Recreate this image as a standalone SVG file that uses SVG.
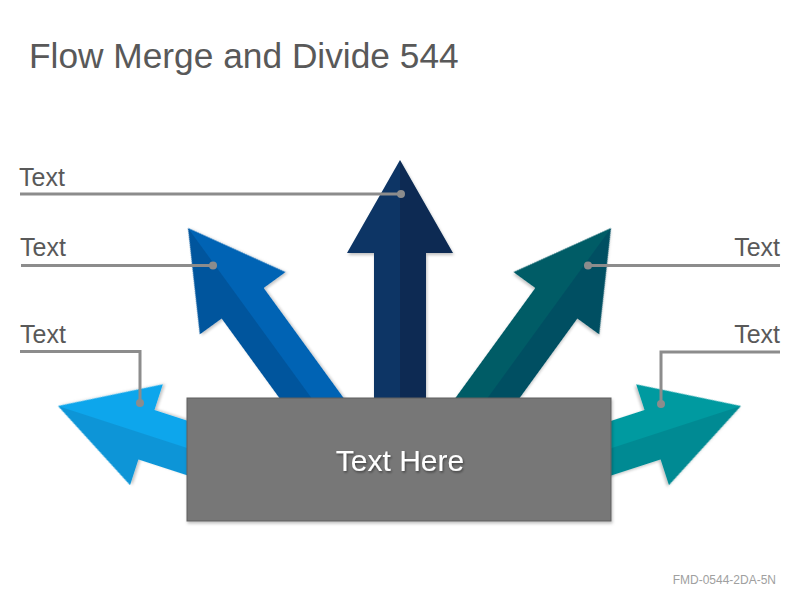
<svg xmlns="http://www.w3.org/2000/svg" width="800" height="600" viewBox="0 0 800 600">
  <style>
    .lbl { font-family: "Liberation Sans", Arial, sans-serif; font-size: 25px; fill: #595959; }
    .title { font-family: "Liberation Sans", Arial, sans-serif; font-size: 35.3px; fill: #595959; }
    .foot { font-family: "Liberation Sans", Arial, sans-serif; font-size: 12px; fill: #A0A0A0; }
    .main { font-family: "Liberation Sans", Arial, sans-serif; font-size: 30px; fill: #FFFFFF; }
    .lead { fill: none; stroke: #8C8C8C; stroke-width: 3; }
    .dot { fill: #8C8C8C; }
  </style>
  <defs>
    <filter id="sh" x="-20%" y="-20%" width="140%" height="140%">
      <feDropShadow dx="1" dy="2" stdDeviation="1.5" flood-color="#000000" flood-opacity="0.25"/>
    </filter>
    <filter id="tsh" x="-10%" y="-20%" width="120%" height="140%">
      <feDropShadow dx="1" dy="1.5" stdDeviation="1" flood-color="#000000" flood-opacity="0.45"/>
    </filter>
    <path id="halfL" d="M0,0 L-53,93 L-26,93 L-26,260 L0,260 Z"/>
    <path id="halfR" d="M0,0 L53,93 L26,93 L26,260 L0,260 Z"/>
    <path id="halfLs" d="M0,0 L-53,93 L-26,93 L-26,200 L0,200 Z"/>
    <path id="halfRs" d="M0,0 L53,93 L26,93 L26,200 L0,200 Z"/>
  </defs>

  <rect width="800" height="600" fill="#FFFFFF"/>

  <text class="title" x="29" y="68">Flow Merge and Divide 544</text>

  <g id="arrow-lower-left" transform="translate(58,406) rotate(-72)" filter="url(#sh)">
    <use href="#halfLs" fill="#0895D7"/>
    <use href="#halfRs" fill="#0BA6EC"/>
  </g>
  <g id="arrow-upper-left" transform="translate(188,228) rotate(-36)" filter="url(#sh)">
    <use href="#halfL" fill="#04559D"/>
    <use href="#halfR" fill="#0563B4"/>
  </g>
  <g id="arrow-center" transform="translate(400,160)" filter="url(#sh)">
    <use href="#halfL" fill="#0B3565"/>
    <use href="#halfR" fill="#082A53"/>
  </g>
  <g id="arrow-upper-right" transform="translate(611,228) rotate(36)" filter="url(#sh)">
    <use href="#halfL" fill="#015B66"/>
    <use href="#halfR" fill="#004F62"/>
  </g>
  <g id="arrow-lower-right" transform="translate(741,406) rotate(72)" filter="url(#sh)">
    <use href="#halfLs" fill="#029AA0"/>
    <use href="#halfRs" fill="#028A93"/>
  </g>

  <g id="center-box">
    <rect x="187" y="398" width="424" height="123" fill="#777777" stroke="#606060" stroke-width="1" filter="url(#sh)"/>
    <text class="main" x="400" y="471" text-anchor="middle" filter="url(#tsh)">Text Here</text>
  </g>

  <g id="connectors">
    <polyline class="lead" points="20,194 401,194"/>
    <polyline class="lead" points="21,265.5 213,265.5"/>
    <polyline class="lead" points="20,351.5 140,351.5 140,403"/>
    <polyline class="lead" points="588,265.5 780,265.5"/>
    <polyline class="lead" points="780,352 661,352 661,404"/>
    <circle class="dot" cx="401" cy="194" r="4"/>
    <circle class="dot" cx="213" cy="265.5" r="4"/>
    <circle class="dot" cx="140" cy="403" r="4"/>
    <circle class="dot" cx="588" cy="265.5" r="4"/>
    <circle class="dot" cx="661" cy="404" r="4"/>
  </g>

  <g id="label-top-left"><text class="lbl" x="19" y="186">Text</text></g>
  <g id="label-mid-left"><text class="lbl" x="20" y="256">Text</text></g>
  <g id="label-low-left"><text class="lbl" x="20" y="343">Text</text></g>
  <g id="label-mid-right"><text class="lbl" x="780" y="256" text-anchor="end">Text</text></g>
  <g id="label-low-right"><text class="lbl" x="780" y="343" text-anchor="end">Text</text></g>

  <text class="foot" x="776" y="584" text-anchor="end">FMD-0544-2DA-5N</text>
</svg>
